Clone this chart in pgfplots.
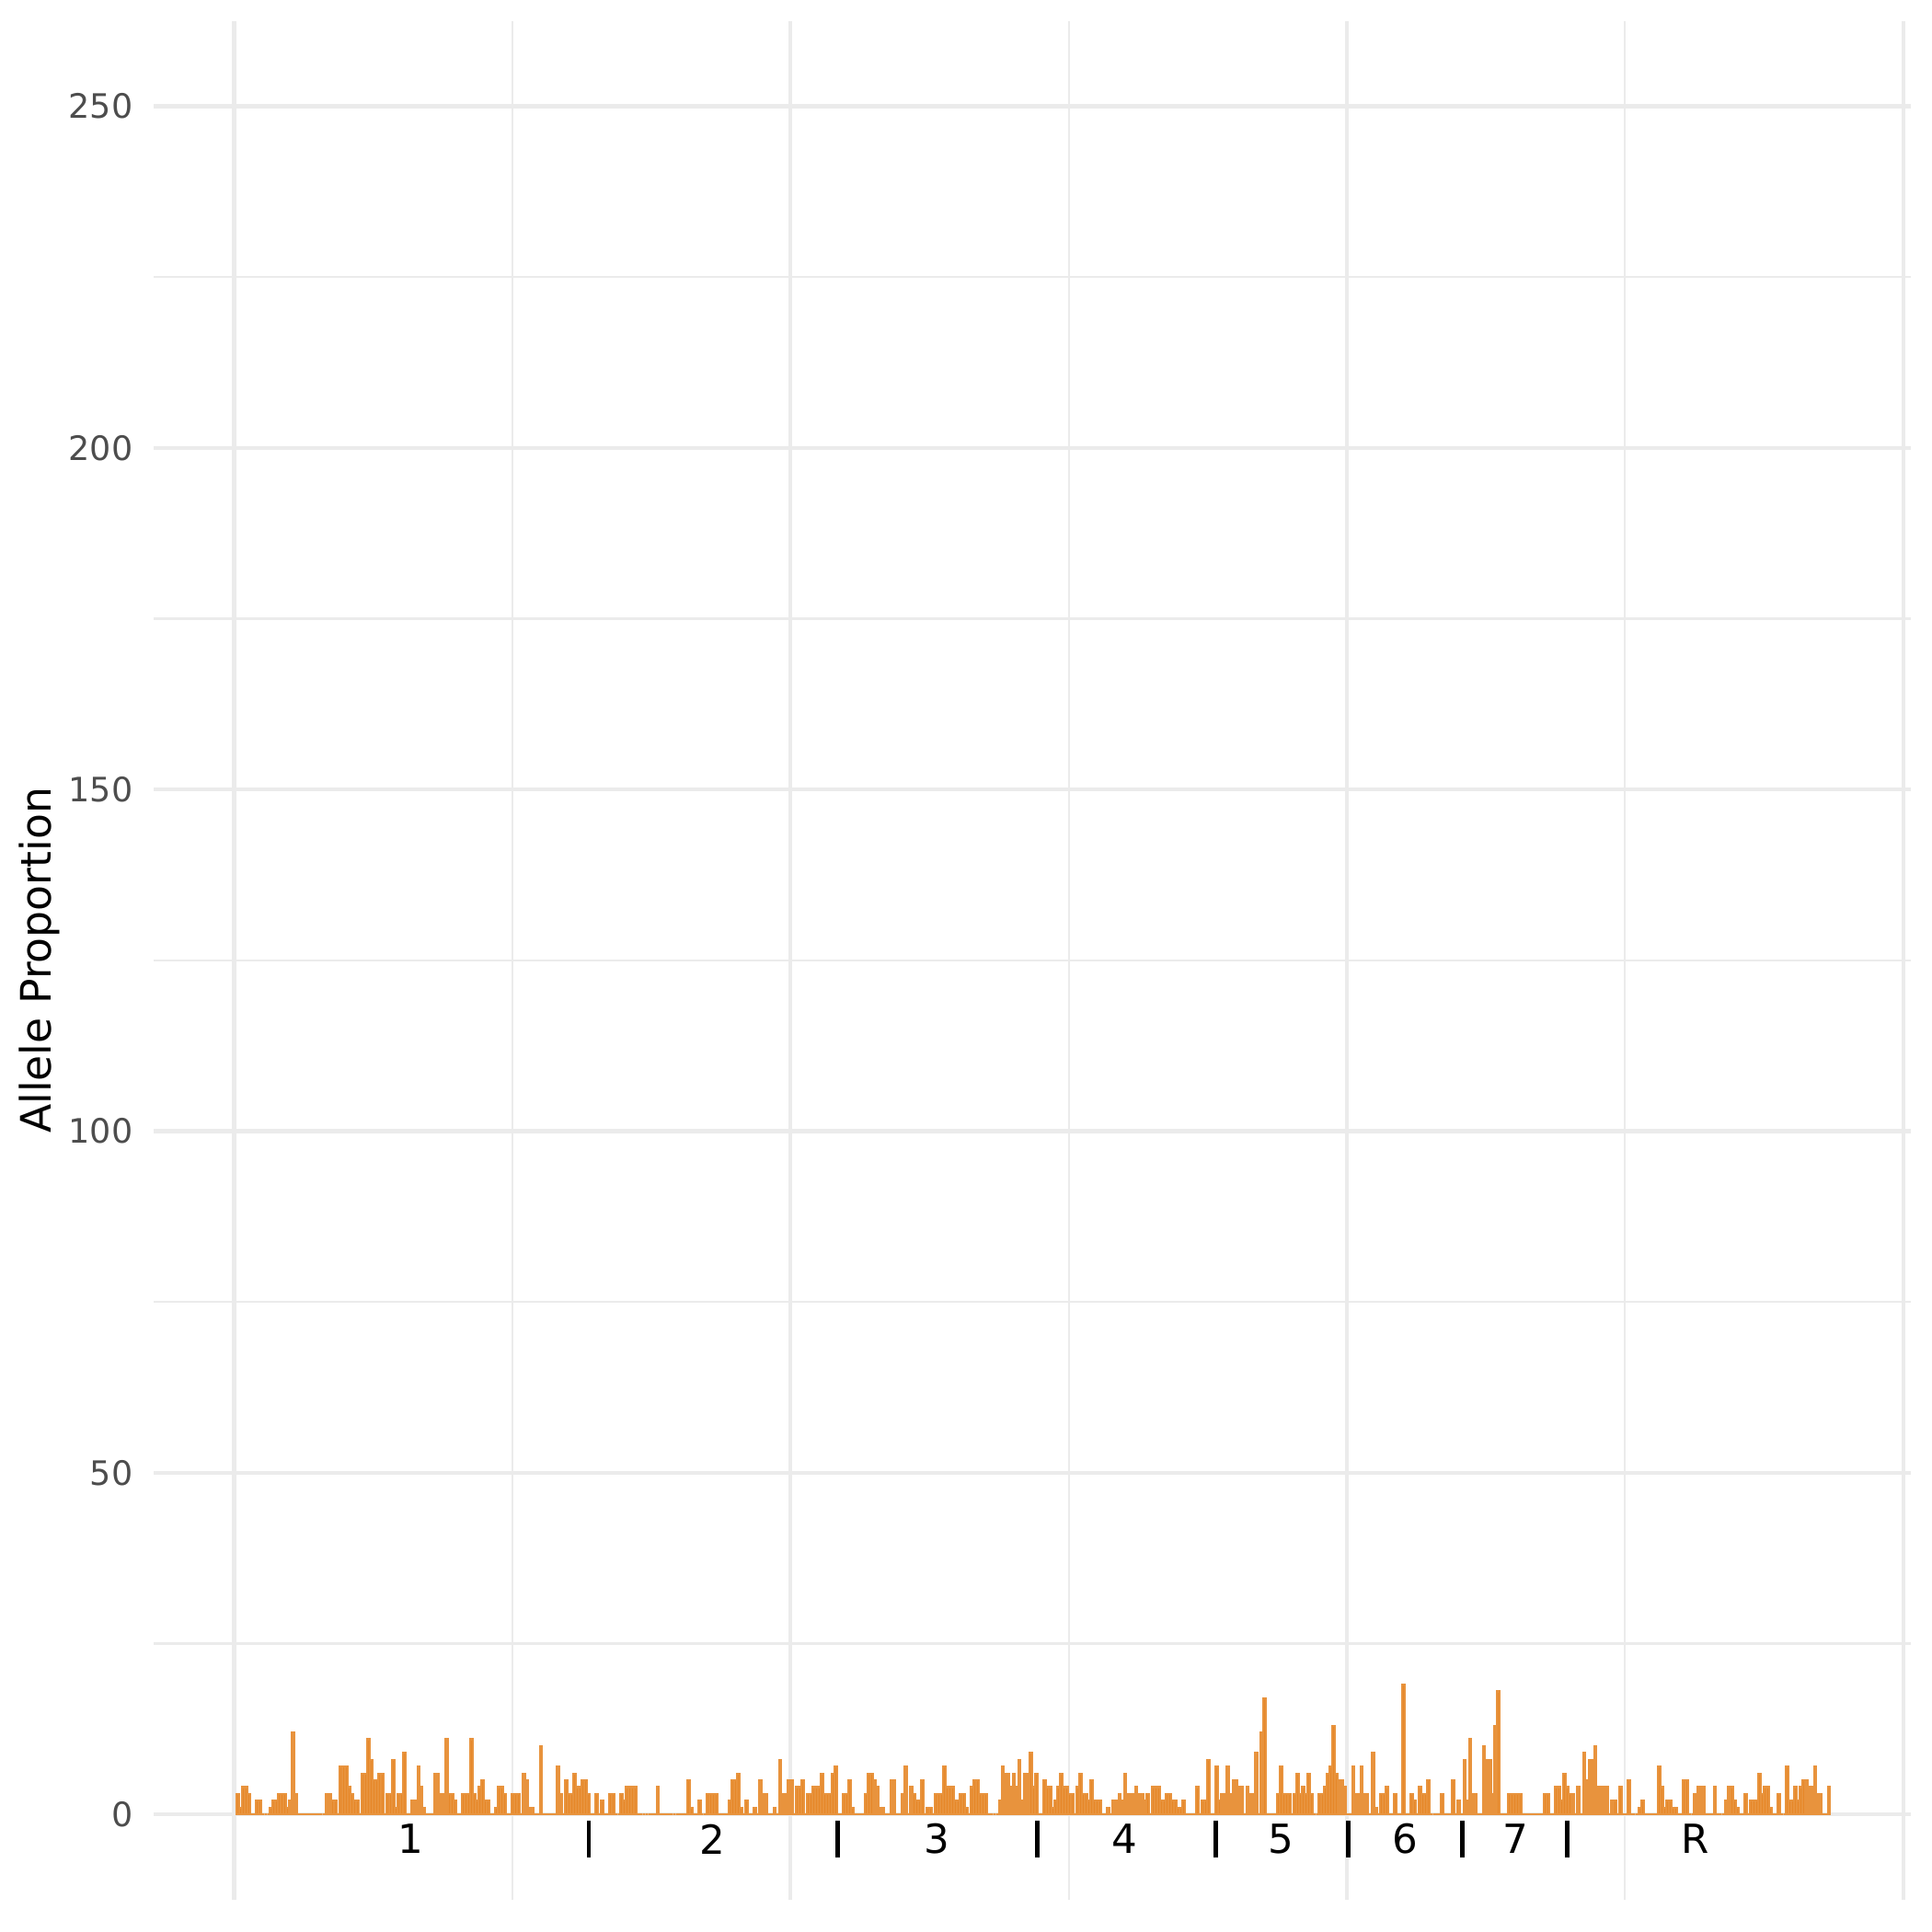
\documentclass[border=0pt]{standalone}
\usepackage{fontspec}
\setmainfont{DejaVu Sans}
\usepackage{pgfplots}
\pgfplotsset{compat=1.18}
\definecolor{barcol}{RGB}{230,135,40}
\definecolor{gridcol}{RGB}{235,235,235}
\definecolor{tickcol}{RGB}{77,77,77}
\begin{document}
\begin{tikzpicture}[x=1cm,y=1cm]
\path[use as bounding box] (-1.417,-0.296) rectangle (16.362,17.484);
\begin{axis}[
  at={(0,0)}, anchor=south west,
  scale only axis, width=16.165cm, height=17.291cm,
  xmin=-28.8, xmax=602.6, ymin=-12.5, ymax=262.5,
  xtick={0,200,400,600}, minor xtick={100,300,500}, xticklabels={},
  ytick={0,50,100,150,200,250}, minor ytick={25,75,125,175,225},
  grid=both,
  major grid style={draw=gridcol, line width=1.07pt},
  minor grid style={draw=gridcol, line width=0.53pt},
  major tick length=0pt, minor tick length=0pt,
  axis line style={draw=none},
  /pgf/number format/assume math mode=true,
  yticklabel style={font=\fontsize{8.8}{10}\selectfont, text=tickcol, inner sep=0pt, anchor=east, xshift=-0.187cm},
  ylabel={Allele Proportion},
  ylabel style={font=\fontsize{11}{13}\selectfont, at={(axis description cs:-0.0651,0.5)}, anchor=center},
  clip=false,
]
\addplot[ybar, bar width=0.9, bar shift=0pt, fill=barcol, draw=barcol!90!white, line width=0.5pt]
  table[row sep=\\, header=false, x expr=\coordindex+1.3, y index=0] {
3\\1\\4\\4\\3\\0\\0\\2\\2\\0\\
0\\0\\1\\2\\2\\3\\3\\3\\1\\2\\
12\\3\\0\\0\\0\\0\\0\\0\\0\\0\\
0\\0\\3\\3\\2\\2\\0\\7\\7\\7\\
4\\3\\2\\2\\0\\6\\6\\11\\8\\5\\
5\\6\\6\\0\\3\\3\\8\\1\\3\\3\\
9\\0\\0\\2\\2\\7\\4\\1\\0\\0\\
0\\6\\6\\3\\3\\11\\3\\3\\2\\0\\
0\\3\\3\\3\\11\\3\\2\\4\\5\\2\\
2\\0\\0\\1\\4\\4\\3\\0\\0\\3\\
3\\3\\0\\6\\5\\1\\1\\0\\0\\10\\
0\\0\\0\\0\\0\\7\\3\\0\\5\\3\\
3\\6\\4\\4\\5\\5\\3\\0\\0\\3\\
0\\2\\0\\0\\3\\3\\0\\0\\3\\2\\
4\\4\\4\\4\\0\\0\\0\\0\\0\\0\\
0\\4\\0\\0\\0\\0\\0\\0\\0\\0\\
0\\0\\5\\1\\0\\0\\2\\0\\0\\3\\
3\\3\\3\\0\\0\\0\\0\\2\\5\\5\\
6\\1\\0\\2\\0\\0\\1\\0\\5\\3\\
3\\0\\0\\1\\0\\8\\3\\3\\5\\5\\
0\\4\\4\\5\\0\\3\\3\\4\\4\\4\\
6\\3\\3\\3\\6\\7\\0\\0\\3\\3\\
5\\1\\0\\0\\0\\0\\3\\6\\6\\5\\
4\\1\\1\\0\\0\\5\\5\\0\\0\\3\\
7\\0\\4\\3\\2\\2\\5\\0\\1\\1\\
0\\3\\3\\3\\7\\4\\4\\4\\2\\2\\
3\\3\\1\\0\\4\\5\\5\\3\\3\\3\\
0\\0\\0\\0\\2\\7\\6\\6\\4\\6\\
4\\8\\2\\6\\6\\9\\4\\6\\0\\0\\
5\\4\\4\\1\\2\\4\\6\\4\\4\\3\\
3\\0\\4\\6\\3\\3\\2\\5\\2\\2\\
2\\0\\0\\1\\0\\2\\2\\3\\2\\6\\
3\\3\\3\\4\\3\\3\\2\\3\\0\\4\\
4\\4\\2\\2\\3\\3\\2\\2\\1\\1\\
2\\0\\0\\0\\0\\4\\0\\2\\2\\8\\
0\\0\\7\\2\\3\\3\\7\\3\\5\\5\\
4\\4\\0\\4\\3\\3\\9\\0\\12\\17\\
0\\0\\0\\0\\3\\7\\3\\3\\3\\0\\
3\\6\\3\\4\\3\\6\\3\\0\\0\\3\\
3\\4\\6\\7\\13\\6\\5\\5\\4\\0\\
0\\7\\3\\3\\7\\3\\3\\0\\9\\1\\
0\\3\\3\\4\\0\\0\\3\\0\\0\\19\\
0\\0\\3\\2\\0\\4\\3\\3\\5\\0\\
0\\0\\0\\3\\0\\0\\0\\5\\0\\2\\
0\\8\\2\\11\\3\\3\\0\\0\\10\\8\\
8\\3\\13\\18\\0\\0\\0\\3\\3\\3\\
3\\3\\0\\0\\0\\0\\0\\0\\0\\0\\
3\\3\\0\\0\\4\\4\\2\\6\\4\\3\\
3\\0\\4\\0\\9\\5\\8\\8\\10\\4\\
4\\4\\4\\0\\2\\2\\0\\4\\0\\0\\
5\\0\\0\\0\\1\\2\\0\\0\\0\\0\\
0\\7\\4\\1\\2\\2\\1\\1\\0\\0\\
5\\5\\0\\0\\3\\4\\4\\4\\0\\0\\
0\\4\\0\\0\\0\\2\\4\\4\\2\\1\\
0\\0\\3\\0\\2\\2\\2\\6\\3\\4\\
4\\1\\0\\0\\3\\0\\0\\7\\2\\2\\
4\\2\\4\\5\\5\\4\\4\\7\\3\\3\\
0\\0\\4\\
};
\addplot[black, line width=1.15pt] coordinates {(127.5,-0.9) (127.5,-6.3)};
\addplot[black, line width=1.15pt] coordinates {(217,-0.9) (217,-6.3)};
\addplot[black, line width=1.15pt] coordinates {(288.8,-0.9) (288.8,-6.3)};
\addplot[black, line width=1.15pt] coordinates {(353,-0.9) (353,-6.3)};
\addplot[black, line width=1.15pt] coordinates {(400.4,-0.9) (400.4,-6.3)};
\addplot[black, line width=1.15pt] coordinates {(441.6,-0.9) (441.6,-6.3)};
\addplot[black, line width=1.15pt] coordinates {(479.3,-0.9) (479.3,-6.3)};
\node[font=\fontsize{10.5}{12}\selectfont, anchor=center] at (axis cs:63.4,-3.6) {1};
\node[font=\fontsize{10.5}{12}\selectfont, anchor=center] at (axis cs:171.8,-3.6) {2};
\node[font=\fontsize{10.5}{12}\selectfont, anchor=center] at (axis cs:252.5,-3.6) {3};
\node[font=\fontsize{10.5}{12}\selectfont, anchor=center] at (axis cs:320.2,-3.6) {4};
\node[font=\fontsize{10.5}{12}\selectfont, anchor=center] at (axis cs:376.4,-3.6) {5};
\node[font=\fontsize{10.5}{12}\selectfont, anchor=center] at (axis cs:420.8,-3.6) {6};
\node[font=\fontsize{10.5}{12}\selectfont, anchor=center] at (axis cs:460.6,-3.6) {7};
\node[font=\fontsize{10.5}{12}\selectfont, anchor=center] at (axis cs:525.3,-3.6) {R};
\end{axis}
\end{tikzpicture}
\end{document}
